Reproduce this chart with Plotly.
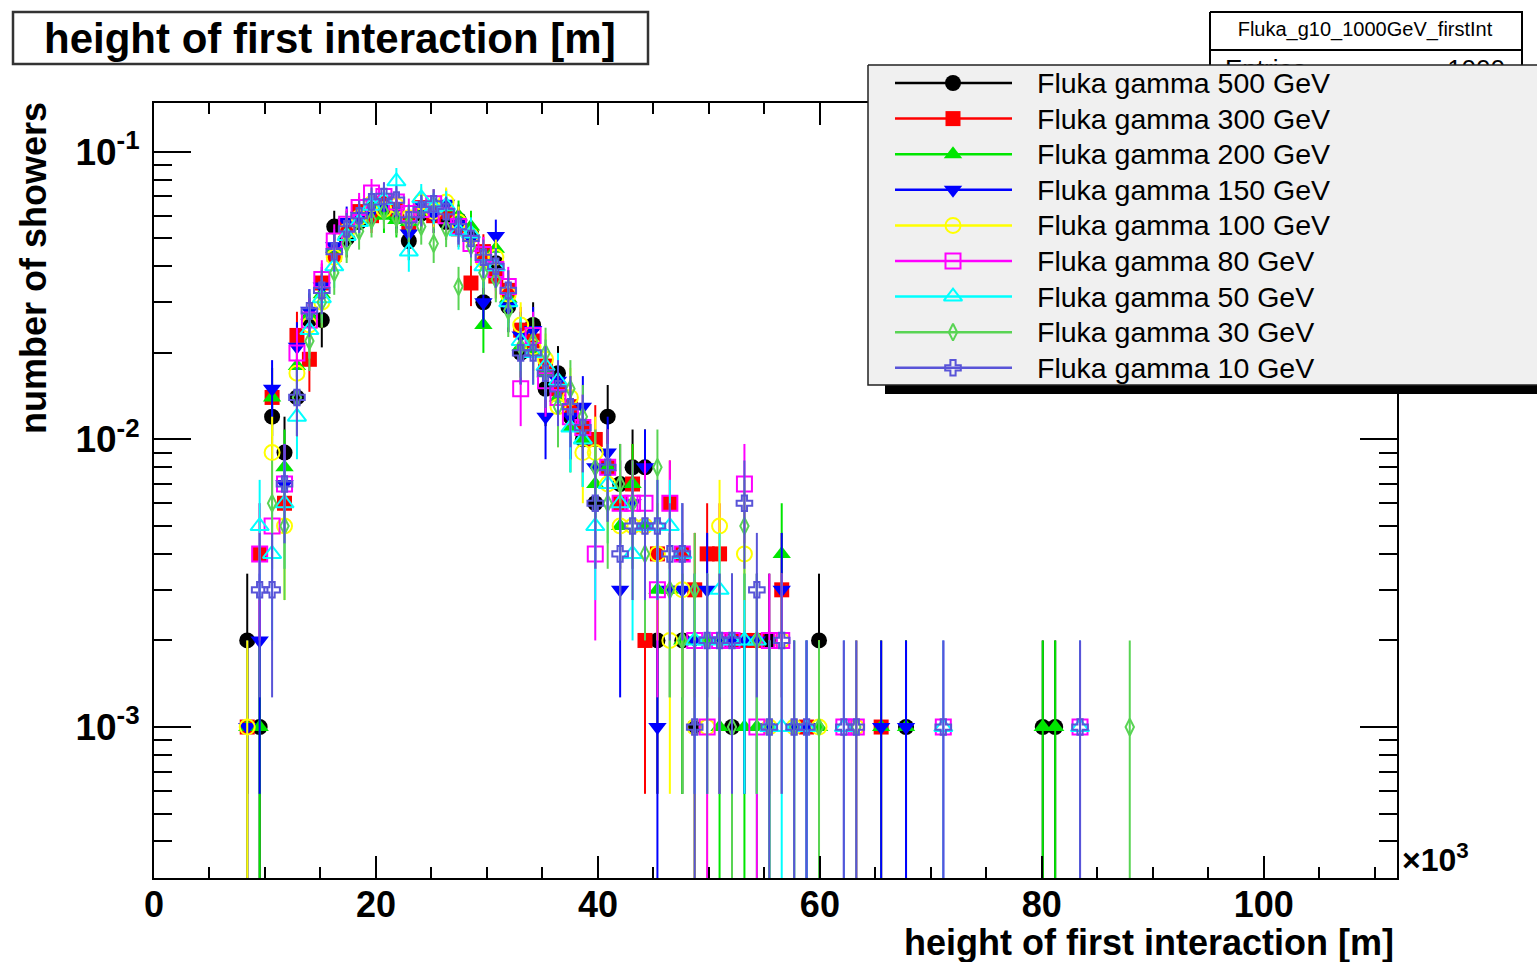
import numpy as np
import plotly.graph_objects as go

# ---------------------------------------------------------------------------
# Histogram definition: 100 bins between 0 and 112 (x10^3 m), 1000 showers each
# ---------------------------------------------------------------------------
X_MIN, X_MAX, N_BINS = 0.0, 112.0, 100
FIRST_BIN = 7            # counts below start at bin index 7
N_ENTRIES = 1000

energies = ["500", "300", "200", "150", "100", "80", "50", "30", "10"]

# bin contents (number of showers) for bins 7 ... 78
counts_500 = [2, 1, 12, 9, 14, 26, 26, 55, 50, 57,
              63, 64, 60, 49, 61, 63, 57, 58, 52, 30,
              41, 29, 20, 25, 15, 17, 12, 10, 6, 12,
              7, 8, 8, 2, 0, 2, 1, 0, 0, 1,
              0, 0, 2, 0, 0, 0, 2, 0, 0, 0,
              0, 0, 0, 1, 0, 0, 0, 0, 0, 0,
              0, 0, 0, 0, 1, 1, 0, 0, 0, 0, 0, 0]
counts_300 = [1, 4, 14, 6, 23, 19, 35, 44, 55, 62,
              60, 66, 63, 56, 64, 60, 62, 54, 35, 45,
              37, 33, 24, 22, 18, 15, 13, 11, 10, 8,
              6, 7, 2, 4, 6, 4, 3, 4, 4, 2,
              2, 2, 0, 3, 0, 1, 0, 0, 0, 0,
              0, 1, 0, 0, 0, 0, 0, 0, 0, 0,
              0, 0, 0, 0, 0, 0, 0, 0, 0, 0, 0, 0]
counts_200 = [1, 1, 14, 8, 18, 27, 32, 46, 52, 58,
              64, 60, 58, 57, 62, 66, 64, 60, 55, 25,
              46, 31, 21, 20, 17, 14, 11, 10, 7, 8,
              5, 7, 5, 3, 3, 2, 2, 2, 1, 2,
              1, 1, 1, 4, 0, 0, 1, 0, 0, 0,
              0, 1, 0, 1, 0, 0, 0, 0, 0, 0,
              0, 0, 0, 0, 1, 1, 0, 0, 0, 0, 0, 0]
counts_150 = [1, 2, 15, 7, 21, 28, 34, 47, 57, 60,
              62, 65, 62, 52, 65, 60, 66, 56, 50, 30,
              51, 29, 23, 24, 12, 16, 12, 13, 8, 9,
              3, 6, 8, 1, 3, 3, 2, 3, 2, 2,
              2, 2, 1, 3, 1, 1, 0, 0, 0, 0,
              0, 1, 0, 1, 0, 0, 0, 0, 0, 0,
              0, 0, 0, 0, 0, 0, 0, 0, 0, 0, 0, 0]
counts_100 = [1, 0, 9, 5, 17, 25, 30, 43, 53, 59,
              66, 63, 65, 59, 67, 62, 67, 57, 51, 42,
              43, 32, 25, 21, 19, 13, 14, 9, 9, 7,
              5, 5, 5, 4, 2, 3, 1, 1, 5, 0,
              4, 0, 1, 2, 1, 0, 1, 0, 0, 1,
              0, 0, 0, 0, 0, 0, 0, 0, 0, 0,
              0, 0, 0, 0, 0, 0, 0, 0, 0, 0, 0, 0]
counts_80 = [0, 4, 5, 7, 20, 26, 36, 49, 56, 64,
             72, 70, 67, 61, 63, 66, 60, 55, 48, 44,
             39, 34, 15, 23, 16, 14, 12, 11, 4, 8,
             6, 6, 6, 3, 6, 4, 2, 1, 2, 2,
             7, 1, 2, 2, 0, 0, 0, 0, 1, 1,
             0, 0, 0, 0, 0, 0, 1, 0, 0, 0,
             0, 0, 0, 0, 0, 0, 0, 1, 0, 0, 0, 0]
counts_50 = [0, 5, 4, 6, 12, 24, 31, 40, 51, 57,
             65, 68, 79, 45, 69, 64, 65, 53, 52, 40,
             40, 30, 22, 20, 18, 16, 11, 10, 5, 7,
             6, 4, 5, 5, 5, 4, 2, 2, 3, 2,
             2, 2, 1, 1, 1, 1, 0, 0, 1, 0,
             0, 0, 0, 0, 0, 0, 1, 0, 0, 0,
             0, 0, 0, 0, 0, 0, 0, 1, 0, 0, 0, 0]
counts_30 = [0, 0, 6, 5, 14, 22, 30, 38, 48, 53,
             58, 62, 59, 56, 55, 48, 54, 34, 47, 38,
             36, 28, 21, 22, 20, 13, 15, 12, 8, 6,
             7, 6, 4, 8, 3, 2, 3, 2, 2, 1,
             5, 2, 1, 0, 1, 0, 1, 0, 0, 1,
             0, 0, 0, 0, 0, 0, 0, 0, 0, 0,
             0, 0, 0, 0, 0, 0, 0, 0, 0, 0, 0, 1]
counts_10 = [0, 3, 3, 7, 14, 28, 33, 45, 54, 60,
             67, 70, 68, 58, 63, 66, 62, 55, 50, 43,
             40, 33, 20, 20, 17, 15, 13, 11, 6, 8,
             4, 5, 5, 5, 4, 4, 1, 2, 2, 2,
             6, 3, 1, 2, 1, 1, 0, 0, 1, 1,
             0, 0, 0, 0, 0, 0, 1, 0, 0, 0,
             0, 0, 0, 0, 0, 0, 0, 1, 0, 0, 0, 0]

all_counts = [counts_500, counts_300, counts_200, counts_150, counts_100,
              counts_80, counts_50, counts_30, counts_10]

# ROOT palette colours 1..9 and marker styles 20..28
colors = ["#000000", "#ff0000", "#00e600", "#0000ff", "#ffff00",
          "#ff00ff", "#00ffff", "#59d454", "#5954d8"]
symbols = ["circle", "square", "triangle-up", "triangle-down", "circle-open",
           "square-open", "triangle-up-open", "diamond-tall-open", "cross-open"]
sizes = [16, 15, 16, 16, 15, 15, 16, 12, 13]

x_ticks = [0, 20, 40, 60, 80, 100]
y_ticks = [1e-3, 1e-2, 1e-1]
y_tick_text = ["10<sup>-3</sup>", "10<sup>-2</sup>", "10<sup>-1</sup>"]

FONT = "Liberation Sans, Arial, Helvetica, sans-serif"
W, H = 1537, 962

# frame of the histogram pad, in pixels
PAD_L, PAD_R, PAD_T, PAD_B = 154, 1397, 103, 878

fig = go.Figure()

# ---------------------------------------------------------------- histograms
bin_width = (X_MAX - X_MIN) / N_BINS
for e, counts, col, sym, sz in zip(energies, all_counts, colors, symbols, sizes):
    c = np.asarray(counts, dtype=float)
    k = np.arange(FIRST_BIN, FIRST_BIN + len(c))
    keep = c > 0
    x = X_MIN + (k[keep] + 0.5) * bin_width
    y = c[keep] / N_ENTRIES
    err = np.sqrt(c[keep]) / N_ENTRIES
    is_open = sym.endswith("-open")
    fig.add_trace(go.Scatter(
        x=x, y=y, mode="markers", name=f"Fluka gamma {e} GeV",
        marker=dict(symbol=sym, size=sz, color=col,
                    line=dict(color=col, width=2 if is_open else 0)),
        error_y=dict(type="data", array=err, arrayminus=err, color=col,
                     thickness=2, width=0, visible=True),
        showlegend=False, xaxis="x", yaxis="y", hoverinfo="skip",
    ))

# ------------------------------------------- boxes drawn on a pixel overlay
def box(x0, y0, x1, y1, fill, line_color, line_width):
    return go.Scatter(x=[x0, x1, x1, x0, x0], y=[y0, y0, y1, y1, y0],
                      mode="lines", fill="toself", fillcolor=fill,
                      line=dict(color=line_color, width=line_width),
                      xaxis="x2", yaxis="y2", showlegend=False, hoverinfo="skip")

# statistics box (mostly hidden behind the legend)
fig.add_trace(box(1210, 12, 1522, 110, "white", "black", 2))
fig.add_trace(go.Scatter(x=[1210, 1522], y=[50, 50], mode="lines",
                         line=dict(color="black", width=2),
                         xaxis="x2", yaxis="y2", showlegend=False, hoverinfo="skip"))
fig.add_trace(go.Scatter(
    x=[1365, 1225, 1505], y=[31, 71, 71], mode="text",
    text=["Fluka_g10_1000GeV_firstInt", "Entries", "1000"],
    textposition=["middle center", "middle right", "middle left"],
    textfont=dict(family=FONT, size=[20, 26, 26], color="black"),
    xaxis="x2", yaxis="y2", showlegend=False, hoverinfo="skip"))

# legend: shadow, box, keys
LEG_L, LEG_T, LEG_B = 868, 65, 385
fig.add_trace(box(885, 80, 1560, LEG_B + 9, "black", "black", 0))
fig.add_trace(box(LEG_L, LEG_T, 1560, LEG_B, "#f0f0f0", "#222222", 1.5))

ROW0, ROW_STEP = 83, 35.6
for i, (e, col, sym, sz) in enumerate(zip(energies, colors, symbols, sizes)):
    yr = ROW0 + i * ROW_STEP
    is_open = sym.endswith("-open")
    fig.add_trace(go.Scatter(x=[895, 1012], y=[yr, yr], mode="lines",
                             line=dict(color=col, width=2.5),
                             xaxis="x2", yaxis="y2", showlegend=False, hoverinfo="skip"))
    fig.add_trace(go.Scatter(x=[953], y=[yr], mode="markers",
                             marker=dict(symbol=sym, size=sz, color=col,
                                         line=dict(color=col, width=2 if is_open else 0)),
                             xaxis="x2", yaxis="y2", showlegend=False, hoverinfo="skip"))

annotations = []
for i, e in enumerate(energies):
    annotations.append(dict(
        x=1035, y=ROW0 + i * ROW_STEP, xref="x2", yref="y2",
        text=f"Fluka gamma {e} GeV", showarrow=False,
        xanchor="left", yanchor="middle",
        font=dict(family=FONT, size=28.5, color="black")))

# title
annotations.append(dict(
    x=330, y=38, xref="x2", yref="y2", text="height of first interaction [m]",
    showarrow=False, xanchor="center", yanchor="middle",
    font=dict(family=FONT, size=42, color="black", weight="bold")))
# axis titles
annotations.append(dict(
    x=1396, y=942, xref="x2", yref="y2", text="height of first interaction [m]",
    showarrow=False, xanchor="right", yanchor="middle",
    font=dict(family=FONT, size=36, color="black", weight="bold")))
annotations.append(dict(
    x=33, y=100, xref="x2", yref="y2", text="number of showers", textangle=-90,
    showarrow=False, xanchor="center", yanchor="top",
    font=dict(family=FONT, size=36, color="black", weight="bold")))
annotations.append(dict(
    x=1400, y=880, xref="x2", yref="y2", text="\u00d710<sup>3</sup>",
    showarrow=False, xanchor="left", yanchor="bottom",
    font=dict(family=FONT, size=32, color="black", weight="bold")))

shapes = [dict(type="rect", xref="x2", yref="y2", x0=13, y0=12, x1=648, y1=64,
               line=dict(color="#333333", width=2.5), fillcolor="white", layer="below")]

y_minor = [m * 10.0 ** d for d in (-4, -3, -2, -1) for m in range(2, 10)]

fig.update_layout(
    width=W, height=H, autosize=False,
    margin=dict(l=0, r=0, t=0, b=0, pad=0, autoexpand=False),
    paper_bgcolor="white", plot_bgcolor="rgba(0,0,0,0)",
    showlegend=False,
    font=dict(family=FONT, color="black"),
    xaxis=dict(
        domain=[PAD_L / W, PAD_R / W], range=[X_MIN, X_MAX], anchor="y",
        automargin=False,
        tickmode="array", tickvals=x_ticks, ticktext=[str(v) for v in x_ticks],
        ticks="inside", ticklen=22, tickwidth=2, tickcolor="black",
        showline=True, linecolor="black", linewidth=2, mirror="allticks",
        showgrid=False, zeroline=False,
        minor=dict(dtick=5, tick0=0, ticks="inside", ticklen=11, tickwidth=2,
                   tickcolor="black", showgrid=False),
        tickfont=dict(family=FONT, size=36, color="black", weight="bold"),
        ticklabelstandoff=-6,
    ),
    yaxis=dict(
        type="log", domain=[1 - PAD_B / H, 1 - PAD_T / H], range=[-3.525, -0.83],
        anchor="x", automargin=False,
        tickmode="array", tickvals=y_ticks, ticktext=y_tick_text,
        ticks="inside", ticklen=37, tickwidth=2, tickcolor="black",
        showline=True, linecolor="black", linewidth=2, mirror="allticks",
        showgrid=False, zeroline=False,
        minor=dict(tickmode="array", tickvals=y_minor, ticks="inside", ticklen=18,
                   tickwidth=2, tickcolor="black", showgrid=False),
        tickfont=dict(family=FONT, size=37, color="black", weight="bold"),
        ticklabelstandoff=5,
    ),
    xaxis2=dict(domain=[0, 1], range=[0, W], anchor="y2", visible=False,
                fixedrange=True, automargin=False),
    yaxis2=dict(domain=[0, 1], range=[H, 0], anchor="x2", visible=False,
                fixedrange=True, automargin=False),
    annotations=annotations,
    shapes=shapes,
)

fig.write_html("out.html")
